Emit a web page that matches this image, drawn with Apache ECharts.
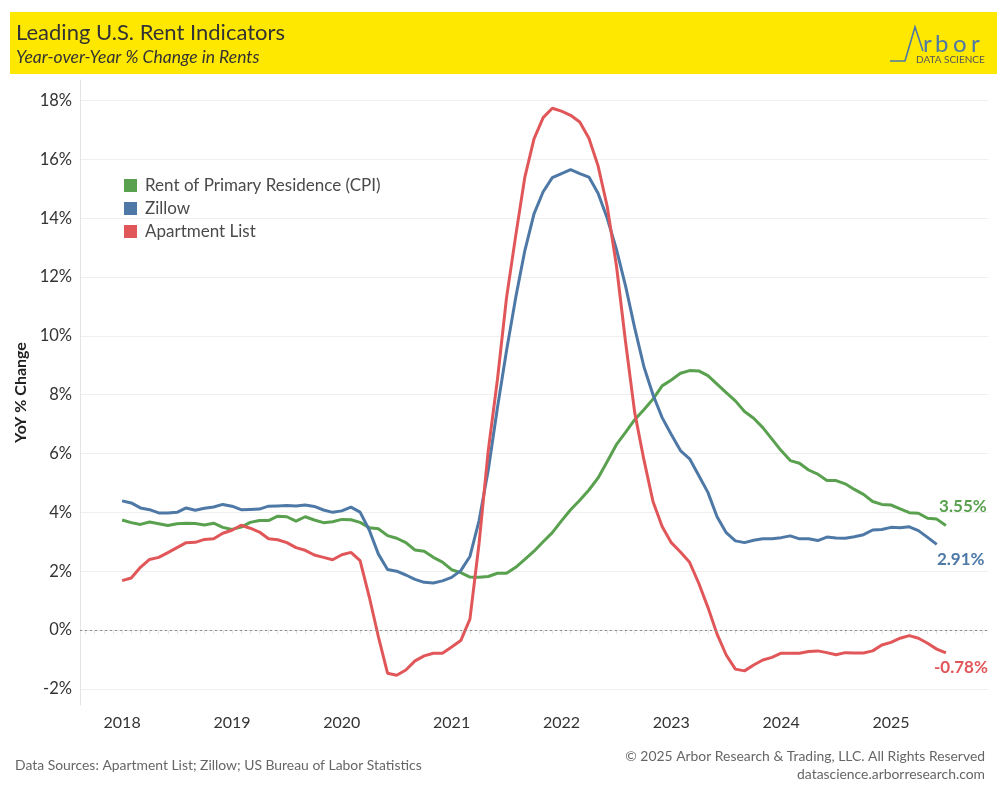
<!DOCTYPE html>
<html>
<head>
<meta charset="utf-8">
<script src="https://cdn.jsdelivr.net/npm/echarts@6/dist/echarts.min.js"></script>
<style>html,body{margin:0;padding:0;background:#fff}#c{width:1000px;height:800px}</style>
</head>
<body>
<div id="c"></div>
<script>
// Monthly observations, Jan 2018 .. Jul 2025 (index 0 = Jan 2018)
const startYear = 2018;
const yearTicks = [2018, 2019, 2020, 2021, 2022, 2023, 2024, 2025];
const yTicks = [-2, 0, 2, 4, 6, 8, 10, 12, 14, 16, 18];

const cpi = [3.74,3.65,3.59,3.67,3.61,3.55,3.61,3.63,3.62,3.57,3.63,3.49,
  3.42,3.50,3.66,3.72,3.72,3.87,3.85,3.70,3.85,3.74,3.65,3.68,
  3.76,3.75,3.66,3.48,3.44,3.21,3.12,2.97,2.72,2.68,2.47,2.31,
  2.05,1.95,1.80,1.79,1.82,1.93,1.93,2.13,2.40,2.68,3.00,3.31,
  3.71,4.09,4.41,4.76,5.17,5.73,6.30,6.72,7.15,7.49,7.85,8.30,
  8.50,8.73,8.82,8.81,8.65,8.36,8.07,7.79,7.43,7.20,6.88,6.49,
  6.10,5.76,5.67,5.44,5.30,5.08,5.08,4.97,4.78,4.61,4.37,4.27,
  4.25,4.12,3.99,3.97,3.80,3.77,3.55];

const zillow = [4.39,4.32,4.15,4.09,3.98,3.98,4.00,4.15,4.07,4.14,4.18,4.27,
  4.21,4.09,4.10,4.11,4.21,4.22,4.23,4.22,4.25,4.20,4.08,4.00,
  4.05,4.18,4.01,3.40,2.58,2.06,2.00,1.87,1.72,1.62,1.60,1.67,
  1.79,2.02,2.50,3.72,5.43,7.55,9.50,11.30,12.90,14.15,14.90,15.38,
  15.52,15.65,15.52,15.40,14.85,14.00,12.95,11.70,10.27,8.96,8.00,7.22,
  6.65,6.10,5.82,5.25,4.68,3.85,3.31,3.03,2.97,3.05,3.10,3.10,
  3.14,3.20,3.10,3.10,3.04,3.16,3.13,3.12,3.17,3.24,3.40,3.42,
  3.49,3.48,3.51,3.38,3.15,2.91];

const aptList = [1.68,1.77,2.13,2.40,2.47,2.63,2.80,2.97,2.98,3.08,3.10,3.29,
  3.39,3.56,3.46,3.33,3.10,3.07,2.97,2.80,2.71,2.55,2.47,2.39,
  2.56,2.64,2.36,1.13,-0.23,-1.47,-1.54,-1.36,-1.05,-0.88,-0.79,-0.79,
  -0.58,-0.36,0.37,2.95,6.10,8.50,11.30,13.40,15.40,16.70,17.42,17.74,
  17.64,17.50,17.27,16.72,15.78,14.40,12.40,9.80,7.40,5.80,4.37,3.52,
  2.97,2.65,2.30,1.59,0.77,-0.14,-0.85,-1.33,-1.39,-1.19,-1.02,-0.93,
  -0.79,-0.79,-0.79,-0.73,-0.71,-0.77,-0.84,-0.77,-0.78,-0.78,-0.71,-0.51,
  -0.42,-0.28,-0.19,-0.28,-0.45,-0.65,-0.78];

const seriesNames = ['Rent of Primary Residence (CPI)', 'Zillow', 'Apartment List'];
const colors = ['#59a14f', '#4e79a7', '#e15759'];

const FONT = 'Lato';
const chart = echarts.init(document.getElementById('c'));

const monthTicks = [];
for (let i = -4; i <= 94; i++) monthTicks.push(i);
const yearIdx = yearTicks.map(y => (y - startYear) * 12);

function mkSeries(name, arr, color, off) {
  const last = arr.length - 1;
  return {
    name: name, type: 'line', data: arr.map((v, i) => [i, v]),
    showSymbol: false, symbol: 'none', smooth: false,
    lineStyle: { width: 3, color: color }, itemStyle: { color: color },
    z: 3,
    markPoint: {
      symbol: 'circle', symbolSize: 1, silent: true,
      itemStyle: { color: 'rgba(0,0,0,0)' },
      data: [{ coord: [last, arr[last]] }],
      label: {
        show: true, position: 'inside', offset: off,
        formatter: arr[last].toFixed(2) + '%',
        color: color, fontWeight: 'bold', fontSize: 17, fontFamily: FONT
      }
    }
  };
}

const s0 = mkSeries(seriesNames[0], cpi, colors[0], [17, -19]);
const s1 = mkSeries(seriesNames[1], zillow, colors[1], [24, 15]);
const s2 = mkSeries(seriesNames[2], aptList, colors[2], [15, 15]);
s0.markLine = {
  silent: true, symbol: 'none', label: { show: false },
  lineStyle: { color: '#8a8a8a', type: [2, 3], width: 1.2 },
  data: [{ yAxis: 0 }]
};

const logoLetters = [['r', 923], ['b', 935], ['o', 953], ['r', 971]];

chart.setOption({
  animation: false,
  backgroundColor: '#fff',
  grid: { left: 80, right: 12, top: 80, bottom: 95 },
  legend: {
    orient: 'vertical', left: 124, top: 177, icon: 'rect', padding: 0,
    itemWidth: 13, itemHeight: 13, itemGap: 6,
    data: seriesNames,
    textStyle: { fontFamily: FONT, fontSize: 17, color: '#4a4a4a', padding: [0, 0, 0, 3] }
  },
  xAxis: {
    type: 'value', min: -4.6, max: 94.6,
    axisLine: { show: true, lineStyle: { color: '#e4e4e4' } },
    axisTick: { show: true, length: 4, lineStyle: { color: '#e4e4e4' }, customValues: monthTicks },
    axisLabel: {
      customValues: yearIdx, margin: 10,
      formatter: v => String(startYear + Math.round(v / 12)),
      fontFamily: FONT, fontSize: 16, color: '#333'
    },
    splitLine: { show: false }
  },
  yAxis: {
    type: 'value', min: -2.55, max: 18.7,
    name: 'YoY % Change', nameLocation: 'middle', nameGap: 43,
    nameTextStyle: { fontFamily: FONT, fontSize: 16, fontWeight: 'bold', color: '#222' },
    axisLine: { show: true, onZero: false, lineStyle: { color: '#e4e4e4' } },
    axisTick: { show: false, customValues: yTicks },
    axisLabel: {
      customValues: yTicks, margin: 8,
      formatter: v => v + '%', fontFamily: FONT, fontSize: 16.5, color: '#333'
    },
    splitLine: { show: true, lineStyle: { color: '#efefef', width: 1 } }
  },
  series: [s0, s1, s2],
  graphic: [
    { type: 'rect', shape: { x: 10, y: 12, width: 987, height: 62 }, style: { fill: '#ffe800' }, silent: true },
    { type: 'text', x: 16, y: 33, style: { text: 'Leading U.S. Rent Indicators', fontFamily: FONT, fontSize: 22, fill: '#333', verticalAlign: 'middle' } },
    { type: 'text', x: 16, y: 57, style: { text: 'Year-over-Year % Change in Rents', fontFamily: FONT, fontStyle: 'italic', fontSize: 17.5, fill: '#333', verticalAlign: 'middle' } },
    { type: 'polyline', shape: { points: [[890, 61], [905, 61], [915, 27], [923, 51]] }, style: { stroke: '#4e79a7', lineWidth: 1.6, fill: null } },
    ...logoLetters.map(l => ({ type: 'text', x: l[1], y: 44, style: { text: l[0], fontFamily: FONT, fontSize: 24, fontWeight: 'normal', fill: '#4e79a7', verticalAlign: 'middle' } })),
    { type: 'text', x: 916, y: 60, style: { text: 'DATA SCIENCE', fontFamily: FONT, fontSize: 10, fill: '#555', verticalAlign: 'middle' } },
    { type: 'text', x: 15, y: 766, style: { text: 'Data Sources: Apartment List; Zillow; US Bureau of Labor Statistics', fontFamily: FONT, fontSize: 13.9, fill: '#666', verticalAlign: 'middle' } },
    { type: 'text', x: 985, y: 757, style: { text: '\u00a9 2025 Arbor Research & Trading, LLC. All Rights Reserved', fontFamily: FONT, fontSize: 13.9, fill: '#666', align: 'right', verticalAlign: 'middle' } },
    { type: 'text', x: 985, y: 775, style: { text: 'datascience.arborresearch.com', fontFamily: FONT, fontSize: 13.9, fill: '#666', align: 'right', verticalAlign: 'middle' } }
  ]
});
</script>
</body>
</html>
